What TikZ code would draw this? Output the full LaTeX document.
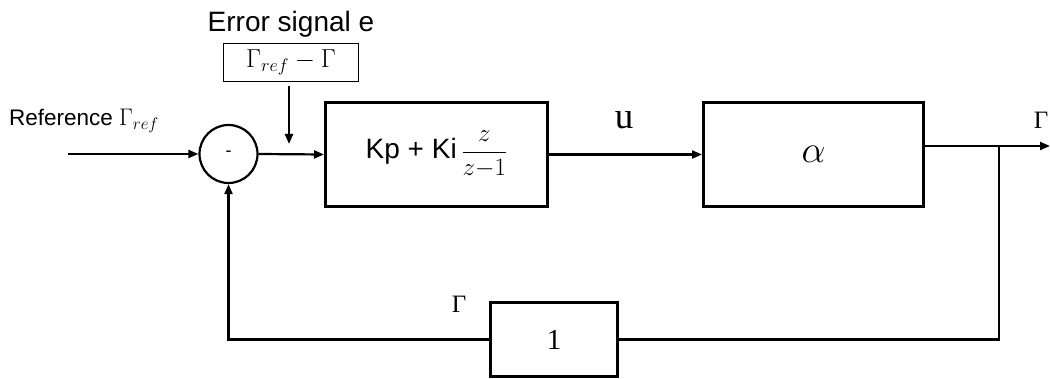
\RequirePackage{fix-cm}
\documentclass[tikz,border=0pt]{standalone}
\usepackage[no-math]{fontspec}
\setmainfont{Liberation Sans}
\newfontfamily\tnr{Liberation Serif}
\usetikzlibrary{arrows.meta}
\tikzset{
  blk/.style={draw, line width=3pt, rectangle, inner sep=0pt},
  thinbox/.style={draw, line width=1.2pt, rectangle, inner sep=0pt},
  wire/.style={line width=2.2pt},
  arr/.style={line width=2.2pt, -{Triangle[length=10pt,width=8pt]}},
  lbl/.style={inner sep=0pt}
}
\begin{document}
\begin{tikzpicture}[x=1pt,y=-1pt]
\useasboundingbox (0,0) rectangle (1050,379);
% labels
\node[lbl, font=\fontsize{28}{30}\selectfont] (errlbl) at (291,24) {Error signal e};
\node[thinbox, minimum width=135pt, minimum height=38pt, font=\fontsize{26}{28}\selectfont] (errbox) at (291,62.5) {$\Gamma_{ref}-\Gamma$};
\node[lbl, font=\fontsize{22.5}{24}\selectfont] (reflbl) at (84,121) {Reference {\fontsize{24}{26}\selectfont$\Gamma_{ref}$}};
% summing junction
\node[draw, circle, line width=2.2pt, minimum size=58pt, inner sep=0pt, font=\fontsize{18}{20}\selectfont] (sum) at (228.5,154) {-};
% blocks
\node[blk, minimum width=222pt, minimum height=104pt] (ctrl) at (436.5,154.5)
  {\fontsize{28}{30}\selectfont Kp + Ki\,{\fontsize{25}{27}\selectfont$\displaystyle\frac{z}{z{-}1}$}};
\node[blk, minimum width=220pt, minimum height=104pt, font=\fontsize{38}{40}\selectfont] (plant) at (813.5,154.5) {$\alpha$};
\node[blk, minimum width=127pt, minimum height=74pt, font=\tnr\fontsize{29}{31}\selectfont] (fb) at (554,339.5) {1};
% signal labels
\node[lbl, font=\tnr\fontsize{37}{39}\selectfont] (ulbl) at (624,120) {u};
\node[lbl, font=\tnr\fontsize{25}{27}\selectfont] (gout) at (1041,120) {Γ};
\node[lbl, font=\tnr\fontsize{25}{27}\selectfont] (gfb) at (459,304) {Γ};
% coordinates
\coordinate (in) at (68,154);
\coordinate (ea) at (289,144);
\coordinate (br) at (999,146);
\coordinate (outend) at (1050,146);
% connectors
\draw[arr] (in) -- (sum.west);
\draw[arr] (sum.east) -- (ctrl.west);
\draw[arr] ([xshift=-2pt,yshift=-4pt]errbox.south) -- (ea);
\draw[arr] (ctrl.east) -- (plant.west);
\draw[arr] (plant.east |- br) -- (outend);
\draw[wire] (br) |- (fb.east);
\draw[arr] (fb.west) -| (sum.south);
\end{tikzpicture}
\end{document}
